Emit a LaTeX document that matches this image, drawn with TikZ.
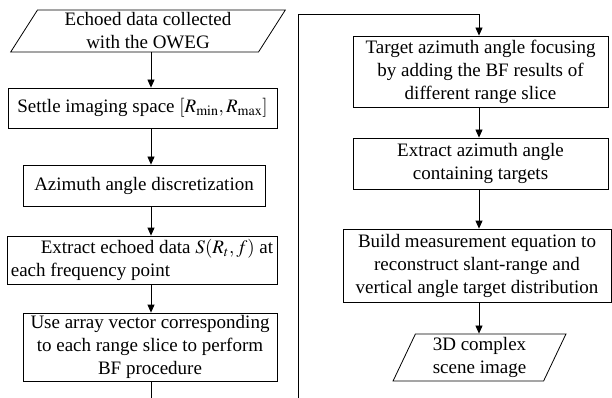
\documentclass[tikz,border=0pt]{standalone}
\usepackage{mathptmx}
\usepackage{fontspec}
\setmainfont{Liberation Serif}
\usetikzlibrary{arrows.meta,shapes.geometric}
\tikzset{
  stepbox/.style={draw,line width=0.8pt,align=center,inner sep=1pt},
  iobox/.style={draw,line width=0.8pt,align=center,trapezium,trapezium stretches=true,inner sep=0pt},
  flow/.style={line width=0.8pt,-{Triangle[length=8pt,width=7pt]}},
  plain/.style={line width=0.8pt}
}

\begin{document}
\begin{tikzpicture}[x=1pt,y=-1pt,font=\fontsize{19}{23}\selectfont]
\useasboundingbox (0,0) rectangle (612,398);
\coordinate (c1) at (151,0);
\coordinate (c2) at (479,0);
% left column
\node[iobox,trapezium left angle=61,trapezium right angle=119,
  minimum width=275,minimum height=42] (in) at (148,31)
  {Echoed data collected\\with the OWEG};
\node[stepbox,minimum width=269,minimum height=40] (space) at (142.5,108)
  {Settle imaging space $[R_{\min},R_{\max}]$};
\node[stepbox,minimum width=242,minimum height=41] (disc) at (144,185.5)
  {Azimuth angle discretization};
\node[stepbox,minimum width=270,minimum height=48,align=left] (echo) at (142,260)
  {\hspace*{30pt}Extract echoed data $S(R_t,f)$ at\\each frequency point};
\node[stepbox,minimum width=254,minimum height=68] (bf) at (150,347)
  {Use array vector corresponding\\to each range slice to perform\\BF procedure};
% right column
\node[stepbox,minimum width=255,minimum height=71] (focus) at (480.5,71.5)
  {Target azimuth angle focusing\\by adding the BF results of\\different range slice};
\node[stepbox,minimum width=255,minimum height=51] (azi) at (480.5,163.5)
  {Extract azimuth angle\\containing targets};
\node[stepbox,minimum width=268,minimum height=73] (meas) at (477,265.5)
  {Build measurement equation to\\reconstruct slant-range and\\vertical angle target distribution};
\node[iobox,trapezium left angle=68,trapezium right angle=112,
  minimum width=173,minimum height=47] (img) at (479.5,357.5)
  {3D complex\\scene image};
% connectors
\draw[flow] (in.south -| c1) -- (space.north -| c1);
\draw[flow] (space.south -| c1) -- (disc.north -| c1);
\draw[flow] (disc.south -| c1) -- (echo.north -| c1);
\draw[flow] (echo.south -| c1) -- (bf.north -| c1);
\coordinate (down) at (151,398);
\coordinate (up) at (298,398);
\coordinate (turn) at (298,14);
\draw[plain] (bf.south -| c1) -- (down);
\draw[flow] (up) -- (turn) -- (turn -| c2) -- (focus.north -| c2);
\draw[flow] (focus.south -| c2) -- (azi.north -| c2);
\draw[flow] (azi.south -| c2) -- (meas.north -| c2);
\draw[flow] (meas.south -| c2) -- (img.north -| c2);
\end{tikzpicture}
\end{document}
